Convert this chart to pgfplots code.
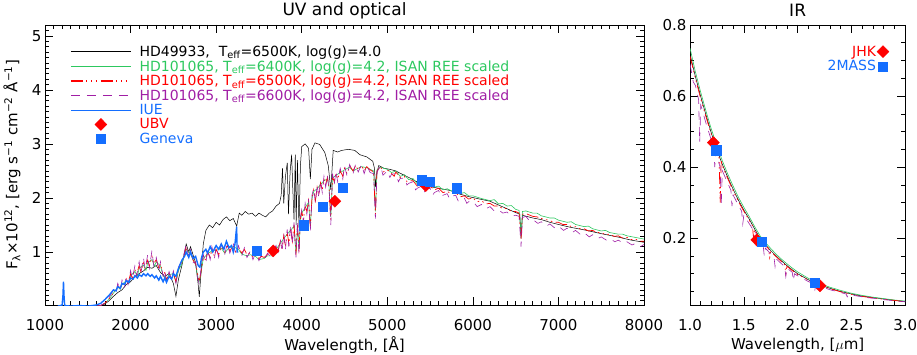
\documentclass[border=0pt]{standalone}
\usepackage{pgfplots}
\pgfplotsset{compat=1.18}
\usepackage{pgfplotstable}
\usepackage{fontspec}
\setmainfont{DejaVu Sans}
\definecolor{cgreen}{RGB}{45,200,95}
\definecolor{cred}{RGB}{255,0,0}
\definecolor{cpurp}{RGB}{160,30,165}
\definecolor{cblue}{RGB}{20,110,255}

\pgfplotstableread[row sep=\\]{
x y\\
1650 0.0\\ 1700 0.04\\ 1750 0.1\\ 1800 0.18\\ 1850 0.25\\ 1900 0.3\\ 1950 0.4\\ 2000 0.45\\ 2050 0.55\\ 2100 0.6\\
2150 0.65\\ 2200 0.72\\ 2250 0.7\\ 2300 0.75\\ 2350 0.62\\ 2400 0.55\\ 2450 0.6\\ 2500 0.42\\ 2530 0.18\\ 2560 0.5\\
2600 0.75\\ 2650 1.15\\ 2680 1.0\\ 2700 1.1\\ 2730 0.95\\ 2760 0.8\\ 2790 0.4\\ 2803 0.17\\ 2820 0.55\\ 2850 1.15\\
2880 1.4\\ 2920 1.5\\ 2960 1.45\\ 3000 1.55\\ 3040 1.5\\ 3080 1.6\\ 3120 1.65\\ 3160 1.58\\ 3200 1.62\\ 3240 1.48\\
3270 1.72\\ 3300 1.68\\ 3340 1.75\\ 3380 1.7\\ 3420 1.72\\ 3460 1.66\\ 3500 1.72\\ 3540 1.68\\ 3580 1.65\\ 3620 1.72\\
3660 1.76\\ 3700 1.85\\ 3740 1.9\\ 3760 2.05\\ 3775 2.55\\ 3790 1.9\\ 3810 2.4\\ 3831 2.65\\ 3845 1.7\\ 3865 2.5\\
3882 2.8\\ 3895 2.2\\ 3910 1.6\\ 3925 2.8\\ 3935 1.5\\ 3950 2.7\\ 3968 1.45\\ 3985 2.6\\ 4000 2.95\\ 4040 3.0\\
4080 2.92\\ 4101 2.35\\ 4120 2.9\\ 4155 3.02\\ 4210 2.99\\ 4270 2.84\\ 4310 2.6\\ 4340 2.15\\ 4368 2.88\\ 4420 2.85\\
4466 2.88\\ 4543 2.9\\ 4620 2.88\\ 4680 2.8\\ 4760 2.76\\ 4830 2.68\\ 4850 2.55\\ 4861 2.2\\ 4875 2.45\\ 4900 2.6\\
4960 2.55\\ 5030 2.53\\ 5100 2.5\\ 5147 2.46\\ 5200 2.42\\ 5264 2.37\\ 5320 2.32\\ 5380 2.27\\ 5440 2.24\\ 5500 2.21\\
5600 2.18\\ 5730 2.14\\ 5850 2.07\\ 5965 2.02\\ 6080 1.98\\ 6200 1.94\\ 6300 1.87\\ 6400 1.8\\ 6500 1.73\\ 6549 1.70\\
6563 1.25\\ 6580 1.68\\ 6700 1.63\\ 6800 1.6\\ 6900 1.55\\ 7000 1.51\\ 7133 1.46\\ 7300 1.41\\ 7500 1.34\\ 7717 1.27\\
7850 1.22\\ 8000 1.18\\
}\tblack

\pgfplotstableread[row sep=\\]{
x y\\
1600 0.0\\ 1650 0.01\\ 1700 0.05\\ 1750 0.13\\ 1800 0.24\\ 1850 0.35\\ 1880 0.31\\ 1900 0.4\\ 1950 0.47\\ 1980 0.42\\
2000 0.56\\ 2050 0.64\\ 2080 0.56\\ 2100 0.7\\ 2150 0.76\\ 2180 0.66\\ 2200 0.8\\ 2250 0.86\\ 2280 0.74\\ 2300 0.82\\
2350 0.74\\ 2380 0.56\\ 2420 0.5\\ 2450 0.58\\ 2500 0.6\\ 2530 0.44\\ 2560 0.66\\ 2600 0.78\\ 2650 1.05\\ 2700 0.97\\
2760 0.76\\ 2800 0.44\\ 2820 0.58\\ 2850 0.88\\ 2900 0.97\\ 2950 1.02\\ 3000 1.03\\ 3060 1.07\\ 3100 0.98\\ 3150 1.08\\
3200 1.1\\ 3260 1.05\\ 3300 0.96\\ 3360 0.93\\ 3400 0.95\\ 3460 0.92\\ 3500 0.86\\ 3560 0.88\\ 3600 0.93\\ 3660 0.93\\
3700 1.05\\ 3750 1.16\\ 3790 1.25\\ 3830 1.33\\ 3870 1.4\\ 3910 1.48\\ 3933 0.98\\ 3950 1.47\\ 3968 1.05\\ 3985 1.58\\
4000 1.72\\ 4040 1.82\\ 4080 1.92\\ 4101 1.48\\ 4120 1.98\\ 4140 2.12\\ 4180 2.17\\ 4220 2.25\\ 4260 2.32\\ 4300 2.35\\
4320 2.2\\ 4340 1.65\\ 4360 2.37\\ 4400 2.42\\ 4450 2.47\\ 4500 2.52\\ 4560 2.57\\ 4600 2.5\\ 4660 2.55\\ 4700 2.58\\
4760 2.56\\ 4840 2.5\\ 4861 1.75\\ 4880 2.52\\ 4920 2.57\\ 5000 2.53\\ 5050 2.47\\ 5100 2.5\\ 5150 2.4\\ 5200 2.43\\
5250 2.34\\ 5300 2.36\\ 5350 2.26\\ 5400 2.28\\ 5450 2.24\\ 5500 2.26\\ 5550 2.2\\ 5600 2.22\\ 5650 2.15\\ 5700 2.17\\
5750 2.13\\ 5800 2.15\\ 5850 2.08\\ 5900 2.1\\ 5950 2.04\\ 6000 2.04\\ 6100 1.99\\ 6200 1.95\\ 6250 1.97\\ 6300 1.89\\
6350 1.9\\ 6400 1.85\\ 6450 1.86\\ 6500 1.79\\ 6540 1.77\\ 6563 1.35\\ 6580 1.75\\ 6620 1.76\\ 6700 1.72\\ 6750 1.72\\
6800 1.67\\ 6900 1.63\\ 6950 1.63\\ 7000 1.59\\ 7100 1.55\\ 7150 1.56\\ 7200 1.51\\ 7300 1.47\\ 7350 1.48\\ 7400 1.43\\
7500 1.39\\ 7550 1.4\\ 7600 1.36\\ 7700 1.33\\ 7750 1.33\\ 7800 1.3\\ 7900 1.27\\ 8000 1.24\\
}\tgreen

\pgfplotstableread[row sep=\\]{
x y\\
1600 0.0\\ 1650 0.01\\ 1700 0.05\\ 1750 0.14\\ 1780 0.2\\ 1800 0.26\\ 1830 0.3\\ 1850 0.38\\ 1880 0.33\\ 1900 0.42\\
1930 0.37\\ 1950 0.5\\ 1970 0.42\\ 2000 0.6\\ 2020 0.52\\ 2050 0.68\\ 2070 0.58\\ 2100 0.75\\ 2120 0.64\\ 2150 0.8\\
2170 0.7\\ 2200 0.85\\ 2220 0.74\\ 2250 0.92\\ 2270 0.78\\ 2300 0.86\\ 2330 0.7\\ 2350 0.78\\ 2380 0.58\\ 2400 0.62\\
2420 0.48\\ 2450 0.6\\ 2480 0.52\\ 2500 0.62\\ 2530 0.45\\ 2560 0.68\\ 2600 0.8\\ 2630 0.95\\ 2650 1.1\\ 2680 0.92\\
2700 1.0\\ 2730 0.85\\ 2760 0.78\\ 2780 0.62\\ 2800 0.45\\ 2820 0.6\\ 2850 0.9\\ 2880 0.85\\ 2900 1.0\\ 2930 0.9\\
2950 1.05\\ 2980 0.92\\ 3000 1.05\\ 3030 0.95\\ 3060 1.1\\ 3100 1.0\\ 3130 1.12\\ 3160 1.02\\ 3200 1.12\\ 3230 1.0\\
3260 1.08\\ 3300 0.98\\ 3330 1.05\\ 3360 0.95\\ 3400 0.98\\ 3430 0.9\\ 3460 0.95\\ 3500 0.88\\ 3530 0.92\\ 3560 0.9\\
3600 0.95\\ 3630 0.98\\ 3660 0.95\\ 3700 1.08\\ 3720 1.0\\ 3750 1.2\\ 3770 1.05\\ 3790 1.3\\ 3810 1.1\\ 3830 1.38\\
3850 1.15\\ 3870 1.45\\ 3890 1.2\\ 3910 1.52\\ 3933 0.95\\ 3950 1.5\\ 3968 1.0\\ 3985 1.62\\ 4000 1.75\\ 4020 1.6\\
4040 1.85\\ 4060 1.75\\ 4080 1.95\\ 4101 1.45\\ 4120 2.0\\ 4140 2.15\\ 4160 1.95\\ 4180 2.2\\ 4200 2.05\\ 4220 2.28\\
4240 2.15\\ 4260 2.35\\ 4280 2.25\\ 4300 2.38\\ 4320 2.2\\ 4340 1.6\\ 4360 2.4\\ 4380 2.3\\ 4400 2.45\\ 4420 2.35\\
4450 2.5\\ 4480 2.4\\ 4500 2.55\\ 4530 2.45\\ 4560 2.6\\ 4600 2.5\\ 4630 2.6\\ 4660 2.52\\ 4700 2.6\\ 4730 2.5\\
4760 2.58\\ 4800 2.52\\ 4840 2.48\\ 4861 1.7\\ 4880 2.5\\ 4920 2.58\\ 4950 2.48\\ 5000 2.52\\ 5050 2.45\\ 5080 2.4\\
5100 2.48\\ 5150 2.38\\ 5200 2.4\\ 5230 2.3\\ 5250 2.32\\ 5300 2.32\\ 5350 2.22\\ 5400 2.25\\ 5450 2.2\\ 5500 2.22\\
5550 2.15\\ 5600 2.18\\ 5650 2.1\\ 5700 2.12\\ 5750 2.08\\ 5800 2.1\\ 5850 2.02\\ 5900 2.04\\ 5950 1.98\\ 6000 2.0\\
6050 1.93\\ 6100 1.95\\ 6150 1.89\\ 6200 1.9\\ 6250 1.85\\ 6300 1.85\\ 6350 1.8\\ 6400 1.81\\ 6450 1.75\\ 6500 1.75\\
6540 1.72\\ 6563 1.25\\ 6580 1.7\\ 6620 1.71\\ 6700 1.66\\ 6750 1.65\\ 6800 1.62\\ 6850 1.6\\ 6900 1.58\\ 6950 1.55\\
7000 1.55\\ 7050 1.51\\ 7100 1.51\\ 7150 1.47\\ 7200 1.47\\ 7250 1.43\\ 7300 1.43\\ 7350 1.39\\ 7400 1.4\\ 7450 1.36\\
7500 1.36\\ 7550 1.32\\ 7600 1.33\\ 7650 1.29\\ 7700 1.3\\ 7750 1.26\\ 7800 1.27\\ 7850 1.23\\ 7900 1.24\\ 7950 1.2\\
8000 1.2\\
}\tred

\pgfplotstableread[row sep=\\]{
x y\\
1600 0.0\\ 1650 0.01\\ 1700 0.06\\ 1750 0.16\\ 1800 0.3\\ 1830 0.24\\ 1850 0.42\\ 1880 0.3\\ 1900 0.48\\ 1930 0.34\\
1950 0.56\\ 1970 0.4\\ 2000 0.66\\ 2020 0.5\\ 2050 0.74\\ 2070 0.55\\ 2100 0.82\\ 2120 0.6\\ 2150 0.9\\ 2170 0.68\\
2200 0.95\\ 2220 0.7\\ 2250 1.03\\ 2270 0.75\\ 2300 0.9\\ 2330 0.65\\ 2350 0.82\\ 2380 0.55\\ 2400 0.66\\ 2420 0.45\\
2450 0.64\\ 2480 0.48\\ 2500 0.65\\ 2530 0.42\\ 2560 0.72\\ 2600 0.84\\ 2630 1.0\\ 2650 1.15\\ 2680 0.88\\ 2700 1.04\\
2730 0.8\\ 2760 0.82\\ 2780 0.55\\ 2800 0.42\\ 2820 0.64\\ 2850 0.95\\ 2880 0.8\\ 2900 1.05\\ 2930 0.86\\ 2950 1.1\\
2980 0.88\\ 3000 1.1\\ 3030 0.9\\ 3060 1.15\\ 3100 0.95\\ 3130 1.16\\ 3160 0.98\\ 3200 1.16\\ 3230 0.95\\ 3260 1.12\\
3300 0.93\\ 3330 1.08\\ 3360 0.9\\ 3400 1.02\\ 3430 0.86\\ 3460 0.98\\ 3500 0.84\\ 3530 0.95\\ 3560 0.86\\ 3600 0.98\\
3630 0.93\\ 3660 1.0\\ 3700 1.12\\ 3720 0.95\\ 3750 1.25\\ 3770 1.0\\ 3790 1.35\\ 3810 1.05\\ 3830 1.42\\ 3850 1.1\\
3870 1.5\\ 3890 1.15\\ 3910 1.55\\ 3933 0.9\\ 3950 1.55\\ 3968 0.95\\ 3985 1.65\\ 4000 1.78\\ 4020 1.55\\ 4040 1.9\\
4060 1.7\\ 4080 1.98\\ 4101 1.4\\ 4120 2.05\\ 4140 2.18\\ 4160 1.9\\ 4180 2.25\\ 4200 2.0\\ 4220 2.32\\ 4240 2.1\\
4260 2.4\\ 4280 2.2\\ 4300 2.42\\ 4320 2.15\\ 4340 1.5\\ 4360 2.45\\ 4380 2.25\\ 4400 2.5\\ 4420 2.3\\ 4450 2.55\\
4480 2.35\\ 4500 2.6\\ 4530 2.4\\ 4560 2.62\\ 4600 2.45\\ 4630 2.63\\ 4660 2.48\\ 4700 2.62\\ 4730 2.45\\ 4760 2.6\\
4800 2.47\\ 4840 2.45\\ 4861 1.62\\ 4880 2.48\\ 4920 2.6\\ 4950 2.42\\ 5000 2.5\\ 5030 2.38\\ 5050 2.44\\ 5100 2.45\\
5130 2.3\\ 5150 2.36\\ 5200 2.37\\ 5230 2.24\\ 5250 2.27\\ 5300 2.3\\ 5330 2.15\\ 5350 2.18\\ 5400 2.22\\ 5430 2.1\\
5450 2.16\\ 5500 2.18\\ 5530 2.05\\ 5550 2.1\\ 5600 2.14\\ 5630 2.02\\ 5650 2.05\\ 5700 2.08\\ 5730 1.98\\ 5750 2.03\\
5800 2.05\\ 5830 1.94\\ 5850 1.97\\ 5900 2.0\\ 5930 1.9\\ 5950 1.93\\ 6000 1.94\\ 6050 1.84\\ 6100 1.88\\ 6150 1.8\\
6200 1.84\\ 6250 1.76\\ 6300 1.78\\ 6350 1.72\\ 6400 1.74\\ 6450 1.66\\ 6500 1.68\\ 6540 1.66\\ 6563 1.1\\ 6580 1.64\\
6620 1.66\\ 6660 1.58\\ 6700 1.6\\ 6760 1.53\\ 6800 1.56\\ 6860 1.48\\ 6900 1.52\\ 6960 1.44\\ 7000 1.48\\ 7060 1.4\\
7100 1.44\\ 7160 1.36\\ 7200 1.4\\ 7260 1.32\\ 7300 1.36\\ 7360 1.28\\ 7400 1.32\\ 7460 1.25\\ 7500 1.28\\ 7560 1.22\\
7600 1.25\\ 7660 1.19\\ 7700 1.22\\ 7760 1.16\\ 7800 1.19\\ 7860 1.13\\ 7900 1.16\\ 7960 1.1\\ 8000 1.14\\
}\tpurp

\pgfplotstableread[row sep=\\]{
x y\\
1150 0.0\\ 1180 0.01\\ 1200 0.02\\ 1210 0.2\\ 1216 0.45\\ 1222 0.2\\ 1230 0.01\\ 1300 0.0\\ 1400 0.01\\ 1500 0.0\\
1600 0.02\\ 1650 0.05\\ 1700 0.12\\ 1750 0.2\\ 1800 0.3\\ 1830 0.28\\ 1850 0.36\\ 1880 0.33\\ 1900 0.42\\ 1930 0.4\\
1950 0.47\\ 1980 0.44\\ 2000 0.52\\ 2030 0.5\\ 2050 0.56\\ 2080 0.52\\ 2100 0.58\\ 2130 0.55\\ 2150 0.6\\ 2180 0.56\\
2200 0.6\\ 2230 0.55\\ 2250 0.58\\ 2280 0.52\\ 2300 0.56\\ 2330 0.48\\ 2350 0.55\\ 2380 0.45\\ 2400 0.52\\ 2420 0.44\\
2450 0.55\\ 2480 0.5\\ 2500 0.6\\ 2530 0.55\\ 2560 0.7\\ 2600 0.85\\ 2630 0.92\\ 2650 1.0\\ 2680 0.9\\ 2700 1.0\\
2730 0.88\\ 2760 0.92\\ 2790 0.75\\ 2810 0.72\\ 2830 0.9\\ 2850 1.0\\ 2880 1.05\\ 2900 0.98\\ 2930 1.1\\ 2960 1.0\\
3000 1.12\\ 3030 1.05\\ 3060 1.15\\ 3090 1.05\\ 3120 1.2\\ 3150 1.08\\ 3180 1.12\\ 3200 1.0\\ 3220 1.15\\ 3240 1.47\\
3245 1.0\\ 3260 1.0\\
}\tiue

\pgfplotstableread[row sep=\\]{
x y\\
3667 1.02\\ 4388 1.94\\ 5450 2.23\\
}\tubv
\pgfplotstableread[row sep=\\]{
x y\\
3473 1.02\\ 4026 1.50\\ 4244 1.84\\ 4477 2.19\\ 5400 2.33\\ 5497 2.30\\ 5809 2.18\\
}\tgen

\pgfplotstableread[row sep=\\]{
x y\\
1.00 0.718\\ 1.05 0.655\\ 1.10 0.598\\ 1.15 0.545\\ 1.20 0.494\\ 1.25 0.448\\ 1.30 0.408\\ 1.35 0.372\\ 1.40 0.338\\ 1.45 0.307\\
1.50 0.279\\ 1.55 0.254\\ 1.60 0.226\\ 1.65 0.20\\ 1.70 0.182\\ 1.75 0.165\\ 1.80 0.15\\ 1.85 0.136\\ 1.90 0.123\\ 1.95 0.111\\
2.00 0.10\\ 2.10 0.083\\ 2.20 0.069\\ 2.30 0.059\\ 2.40 0.05\\ 2.50 0.043\\ 2.60 0.037\\ 2.70 0.033\\ 2.80 0.029\\ 2.90 0.025\\
3.00 0.022\\
}\irblack
\pgfplotstableread[row sep=\\]{
x y\\
1.00 0.735\\ 1.05 0.668\\ 1.10 0.61\\ 1.15 0.556\\ 1.20 0.505\\ 1.25 0.46\\ 1.30 0.418\\ 1.35 0.381\\ 1.40 0.347\\ 1.45 0.315\\
1.50 0.287\\ 1.55 0.261\\ 1.60 0.233\\ 1.65 0.207\\ 1.70 0.188\\ 1.75 0.171\\ 1.80 0.155\\ 1.85 0.141\\ 1.90 0.128\\ 1.95 0.116\\
2.00 0.105\\ 2.10 0.087\\ 2.20 0.073\\ 2.30 0.062\\ 2.40 0.053\\ 2.50 0.045\\ 2.60 0.039\\ 2.70 0.034\\ 2.80 0.03\\ 2.90 0.026\\
3.00 0.023\\
}\irgreen
\pgfplotstableread[row sep=\\]{
x y\\
1.00 0.712\\ 1.05 0.65\\ 1.10 0.592\\ 1.15 0.54\\ 1.20 0.49\\ 1.25 0.444\\ 1.27 0.428\\ 1.28 0.30\\ 1.29 0.42\\ 1.30 0.404\\
1.35 0.368\\ 1.40 0.334\\ 1.45 0.303\\ 1.50 0.276\\ 1.55 0.251\\ 1.58 0.235\\ 1.59 0.2\\ 1.60 0.224\\ 1.65 0.198\\ 1.70 0.18\\
1.73 0.17\\ 1.74 0.145\\ 1.75 0.163\\ 1.80 0.148\\ 1.85 0.134\\ 1.88 0.126\\ 1.89 0.1\\ 1.90 0.121\\ 1.95 0.109\\ 2.00 0.098\\
2.10 0.082\\ 2.17 0.071\\ 2.18 0.058\\ 2.19 0.069\\ 2.20 0.068\\ 2.30 0.058\\ 2.40 0.049\\ 2.50 0.042\\ 2.60 0.036\\ 2.70 0.032\\
2.80 0.028\\ 2.90 0.025\\ 3.00 0.021\\
}\irred
\pgfplotstableread[row sep=\\]{
x y\\
1.00 0.69\\ 1.03 0.64\\ 1.05 0.63\\ 1.08 0.59\\ 1.09 0.47\\ 1.10 0.575\\ 1.15 0.522\\ 1.20 0.474\\ 1.22 0.455\\ 1.23 0.40\\
1.24 0.445\\ 1.25 0.43\\ 1.28 0.4\\ 1.29 0.29\\ 1.30 0.39\\ 1.35 0.355\\ 1.38 0.335\\ 1.39 0.29\\ 1.40 0.322\\ 1.45 0.292\\
1.48 0.276\\ 1.49 0.24\\ 1.50 0.265\\ 1.55 0.241\\ 1.59 0.222\\ 1.60 0.19\\ 1.61 0.216\\ 1.65 0.19\\ 1.68 0.178\\ 1.69 0.15\\
1.70 0.172\\ 1.75 0.156\\ 1.78 0.148\\ 1.79 0.12\\ 1.80 0.142\\ 1.85 0.128\\ 1.88 0.12\\ 1.89 0.092\\ 1.90 0.116\\ 1.95 0.104\\
1.96 0.08\\ 1.97 0.1\\ 2.00 0.094\\ 2.10 0.078\\ 2.15 0.071\\ 2.16 0.055\\ 2.17 0.069\\ 2.20 0.065\\ 2.30 0.055\\ 2.40 0.047\\
2.45 0.043\\ 2.46 0.035\\ 2.47 0.042\\ 2.50 0.04\\ 2.60 0.035\\ 2.62 0.034\\ 2.63 0.028\\ 2.64 0.033\\ 2.70 0.031\\ 2.80 0.027\\
2.90 0.024\\ 3.00 0.021\\
}\irpurp
\pgfplotstableread[row sep=\\]{
x y\\
1.217 0.469\\ 1.62 0.195\\ 2.208 0.066\\
}\tjhk
\pgfplotstableread[row sep=\\]{
x y\\
1.242 0.448\\ 1.666 0.19\\ 2.159 0.074\\
}\ttwomass

\pgfplotsset{
  idl/.style={
    scale only axis,
    tick align=inside,
    major tick length=8pt,
    minor tick length=4pt,
    every tick/.append style={black, line width=0.6pt},
    axis line style={line width=0.8pt},
    tick label style={font=\fontsize{15}{15}\selectfont},
    /pgf/number format/assume math mode=true,
    /pgf/number format/set thousands separator={},
    label style={font=\fontsize{15}{15}\selectfont},
    title style={font=\fontsize{17}{17}\selectfont, at={(axis description cs:0.5,1.03)}, anchor=center},
    xticklabel style={yshift=-11pt},
    xlabel style={at={(axis description cs:0.5,-0.143)}, anchor=center},
  },
  lineleg/.style={legend image code/.code={\draw[##1, line width=#1] (0pt,0pt) -- (60pt,0pt);}},
  markleg/.style={legend image code/.code={\draw[##1] plot coordinates {(30pt,0pt)};}},
  markleg2/.style={legend image code/.code={\draw[##1] plot coordinates {(8pt,0pt)};}},
  dmd/.style={only marks, mark=diamond*, mark size=6pt, mark options={xscale=1.33, draw=cred, fill=cred}, color=cred},
  sqr/.style={only marks, mark=square*, mark size=4.7pt, mark options={draw=cblue, fill=cblue}, color=cblue},
  redline/.style={cred, line width=0.7pt, dash pattern=on 12pt off 3pt on 1.5pt off 3.5pt on 1.5pt off 3.5pt on 1.5pt off 3.5pt},
  purpline/.style={cpurp, line width=0.6pt, dash pattern=on 9pt off 7pt},
}

\begin{document}
\begin{tikzpicture}
\path[use as bounding box] (0pt,0pt) rectangle (917pt,-355pt);

\begin{axis}[idl,
  at={(45pt,-305pt)}, anchor=south west,
  width=599pt, height=280pt,
  xmin=1000, xmax=8000, ymin=0.02, ymax=5.2,
  xtick={1000,2000,...,8000},
  minor xtick={1100,1200,...,7900},
  ytick={1,2,3,4,5},
  minor ytick={0.1,0.2,...,5.1},
  title={UV and optical},
  xlabel={Wavelength, [Å]},
  ylabel={F\textsubscript{λ}×10\textsuperscript{12}, [erg s\textsuperscript{−1} cm\textsuperscript{−2} Å\textsuperscript{−1}]},
  ylabel style={at={(axis description cs:-0.055,0.5)}, anchor=center},
  legend cell align=left,
  legend style={draw=none, fill=none, at={(axis description cs:0.0417,0.93)}, anchor=north west,
    font=\fontsize{14}{14}\selectfont, inner sep=0pt, row sep=0.5pt,
    nodes={inner sep=1pt}},
]
\addplot[black, line width=0.5pt, lineleg=1.1pt] table[x=x,y=y] {\tblack};
\addlegendentry{\hspace*{7pt}HD49933,\ \ T\textsubscript{eff}=6500K, log(g)=4.0}
\addplot[cgreen, line width=0.6pt, lineleg=1.1pt] table[x=x,y=y] {\tgreen};
\addlegendentry{\hspace*{7pt}\textcolor{cgreen}{HD101065, T\textsubscript{eff}=6400K, log(g)=4.2, ISAN REE scaled}}
\addplot[redline, lineleg=1.3pt] table[x=x,y=y] {\tred};
\addlegendentry{\hspace*{7pt}\textcolor{cred}{HD101065, T\textsubscript{eff}=6500K, log(g)=4.2, ISAN REE scaled}}
\addplot[purpline, lineleg=1.3pt] table[x=x,y=y] {\tpurp};
\addlegendentry{\hspace*{7pt}\textcolor{cpurp}{HD101065, T\textsubscript{eff}=6600K, log(g)=4.2, ISAN REE scaled}}
\addplot[cblue, line width=1.4pt, lineleg=1.4pt] table[x=x,y=y] {\tiue};
\addlegendentry{\hspace*{7pt}\textcolor{cblue}{IUE}}
\addplot[dmd, markleg] table[x=x,y=y] {\tubv};
\addlegendentry{\hspace*{7pt}\textcolor{cred}{UBV}}
\addplot[sqr, markleg] table[x=x,y=y] {\tgen};
\addlegendentry{\hspace*{7pt}\textcolor{cblue}{Geneva}}
\end{axis}

\begin{axis}[idl,
  at={(690pt,-305pt)}, anchor=south west,
  width=215.3pt, height=280pt,
  xmin=1, xmax=3, ymin=0.012, ymax=0.8,
  xtick={1,1.5,...,3},
  minor xtick={1.1,1.2,...,2.9},
  ytick={0.2,0.4,0.6,0.8},
  minor ytick={0.05,0.1,...,0.75},
  xticklabel style={/pgf/number format/.cd, fixed, fixed zerofill, precision=1},
  yticklabel style={/pgf/number format/.cd, fixed, fixed zerofill, precision=1},
  title={IR},
  xlabel={Wavelength, [$\mu$m]},
  legend cell align=right,
  legend plot pos=right,
  legend style={draw=none, fill=none, at={(axis description cs:0.925,0.93)}, anchor=north east,
    font=\fontsize{14}{14}\selectfont, inner sep=0pt, row sep=1pt,
    nodes={inner sep=1pt}},
]
\addplot[black, line width=0.5pt, forget plot] table[x=x,y=y] {\irblack};
\addplot[cgreen, line width=0.6pt, forget plot] table[x=x,y=y] {\irgreen};
\addplot[redline, forget plot] table[x=x,y=y] {\irred};
\addplot[purpline, forget plot] table[x=x,y=y] {\irpurp};
\addplot[dmd, markleg2] table[x=x,y=y] {\tjhk};
\addlegendentry{\textcolor{cred}{JHK}}
\addplot[sqr, markleg2] table[x=x,y=y] {\ttwomass};
\addlegendentry{\textcolor{cblue}{2MASS}}
\end{axis}
\end{tikzpicture}
\end{document}
